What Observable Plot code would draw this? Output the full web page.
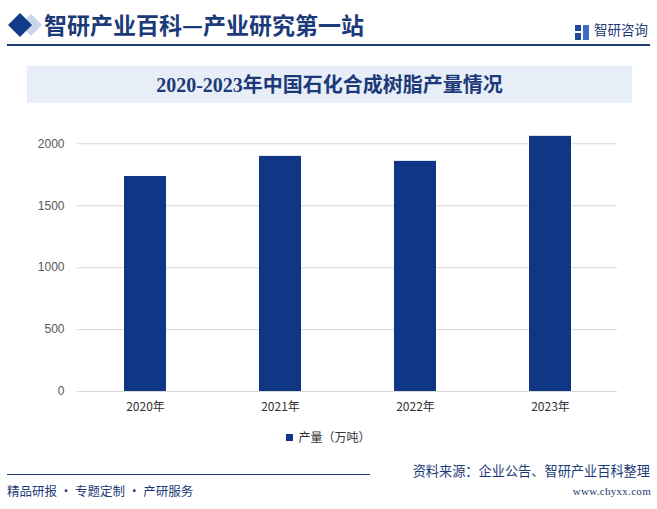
<!DOCTYPE html>
<html><head><meta charset="utf-8">
<script src="https://cdn.jsdelivr.net/npm/d3@7"></script>
<script src="https://cdn.jsdelivr.net/npm/@observablehq/plot@0.6"></script>
<style>
html,body{margin:0;padding:0;background:#fff;}
#page{position:relative;width:657px;height:509px;overflow:hidden;font-family:"Noto Sans CJK SC","Noto Sans",sans-serif;}
.abs{position:absolute;}
#chart{position:absolute;left:0;top:0;}
</style></head>
<body><div id="page">
  <svg class="abs" style="left:8px;top:12px" width="34" height="26" viewBox="0 0 34 26">
    <polygon points="23,2 34,13 23,24 12,13" fill="#c9d6ec"/>
    <polygon points="12,1 24,13 12,25 0,13" fill="#103a8a"/>
  </svg>
  <div class="abs" style="left:44px;top:7px;font-size:23px;font-weight:700;color:#1c3a78;font-family:'Noto Sans CJK SC';white-space:nowrap;">智研产业百科—产业研究第一站</div>
  <div class="abs" style="left:575px;top:21px;width:15px;height:15px;">
    <svg width="15" height="15"><rect x="0" y="0" width="6" height="6" fill="#1d4a9a"/><rect x="0" y="8" width="6" height="7" fill="#1d4a9a"/><rect x="8" y="0" width="6" height="15" fill="#3b6cc0"/></svg>
  </div>
  <div class="abs" style="left:594px;top:19px;font-size:13.5px;color:#1c3a78;">智研咨询</div>
  <div class="abs" style="left:7px;top:44px;width:643px;height:2px;background:#1c3a78;"></div>
  <div class="abs" style="left:27px;top:66px;width:605px;height:37px;background:#e8eef8;"></div>
  <div class="abs" style="left:27px;top:72px;width:605px;text-align:center;font-size:20px;font-weight:700;color:#1c3a78;font-family:'Liberation Serif','Noto Sans CJK SC';white-space:nowrap;line-height:26px;">2020-2023年中国石化合成树脂产量情况</div>
  <div id="chart"></div>
  <div class="abs" style="left:0;top:428px;width:657px;text-align:center;font-size:12px;color:#333;">
    <span style="display:inline-block;width:7px;height:7px;background:#0f3785;margin-right:5px;vertical-align:1px;"></span><span id="legtxt"></span>
  </div>
  <div class="abs" style="left:7px;top:474px;width:363px;height:1px;background:#1c3a78;"></div>
  <div class="abs" style="left:7px;top:481px;font-size:12.5px;color:#1c3a78;">精品研报 · 专题定制 · 产研服务</div>
  <div class="abs" style="right:7px;top:461px;font-size:13.2px;color:#1c3a78;white-space:nowrap;">资料来源：企业公告、智研产业百科整理</div>
  <div class="abs" style="right:6px;top:485px;font-size:11px;color:#1c3a78;font-family:'Liberation Serif';letter-spacing:0.3px;">www.chyxx.com</div>
</div>
<script>
const years = ["2020年","2021年","2022年","2023年"];
const output = [1736, 1898, 1858, 2060];
const yTicks = [0, 500, 1000, 1500, 2000];
const seriesName = "产量（万吨）";
const barColor = "#0f3785";

document.getElementById("legtxt").textContent = seriesName;
const data = years.map((y,i)=>({year:y, value:output[i]}));

const chart = Plot.plot({
  width: 657,
  height: 420,
  marginLeft: 77,
  marginRight: 40,
  marginTop: 118.5,
  marginBottom: 29,
  style: {fontFamily: "'Liberation Sans','Noto Sans CJK SC',sans-serif", fontSize: "12px", background: "transparent"},
  x: {domain: years, paddingInner: 0.69, paddingOuter: 0.345, label: null, tickSize: 0},
  y: {domain: [0, 2200], ticks: yTicks, label: null, tickSize: 0},
  marks: [
    Plot.gridY(yTicks, {stroke: "#d9d9d9", strokeOpacity: 1}),
    Plot.barY(data, {x: "year", y: "value", fill: barColor}),
    Plot.axisY(yTicks, {tickSize: 0, tickPadding: 13, fill: "#595959", fontSize: 12, label: null, tickFormat: d => String(d)}),
    Plot.axisX({tickSize: 0, tickPadding: 11, fill: "#333", fontSize: 12, label: null, fontFamily: "'Noto Sans CJK SC'"})
  ]
});
document.getElementById("chart").appendChild(chart);
</script>
</body></html>
